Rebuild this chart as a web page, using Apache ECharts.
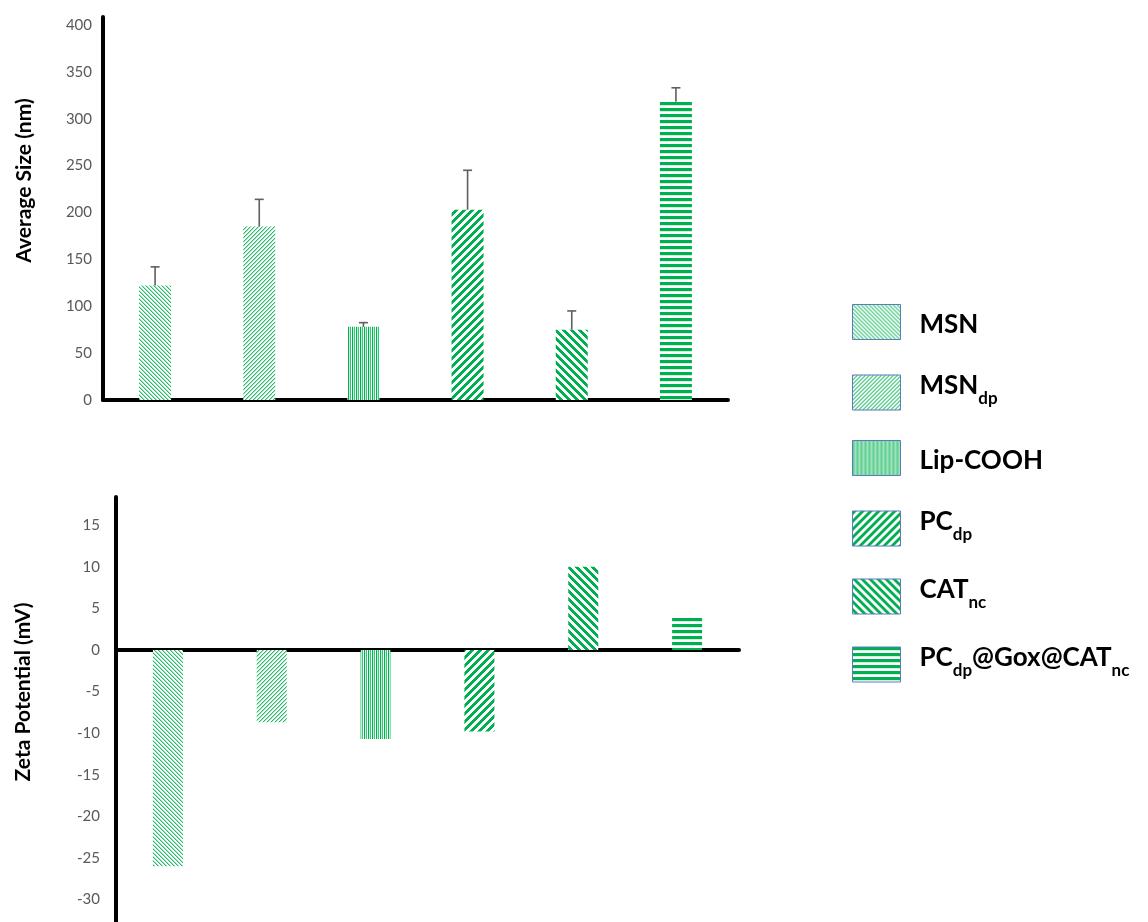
<!DOCTYPE html>
<html>
<head>
<meta charset="utf-8">
<script src="https://cdn.jsdelivr.net/npm/echarts@6/dist/echarts.min.js"></script>
<style>
  html, body { margin: 0; padding: 0; background: #ffffff; }
  #chart { width: 1148px; height: 922px; }
</style>
</head>
<body>
<div id="chart"></div>
<script>
// Samples (an underscore marks the subscript part of a name)
const categories = ['MSN', 'MSN_dp', 'Lip-COOH', 'PC_dp', 'CAT_nc', 'PC_dp@Gox@CAT_nc'];

// Average hydrodynamic size (nm) with upper error
const sizeValues = [122, 185, 78, 203, 75, 318];
const sizeErrors = [20, 29, 4.5, 42, 20, 15];

// Zeta potential (mV)
const zetaValues = [-26, -8.7, -10.7, -9.8, 10, 4];

// Axis ranges and tick steps
const sizeRange = [0, 408.5];
const sizeStep = 50;
const zetaRange = [-35, 18.4];
const zetaStep = 5;

const GREEN = '#00B050';
const FONT = 'Lato';

// Small repeating tiles used as fill patterns
function makeTile(w, h, paint) {
  const c = document.createElement('canvas');
  c.width = w; c.height = h;
  const ctx = c.getContext('2d');
  ctx.fillStyle = '#ffffff';
  ctx.fillRect(0, 0, w, h);
  for (let y = 0; y < h; y++) {
    for (let x = 0; x < w; x++) {
      const col = paint(x, y);
      if (col) { ctx.fillStyle = col; ctx.fillRect(x, y, 1, 1); }
    }
  }
  return { image: c, repeat: 'repeat' };
}
const mod = (a, n) => ((a % n) + n) % n;

const patterns = [
  // light downward diagonal
  makeTile(4, 4, (x, y) => { const k = mod(x - y, 4); return k === 0 ? '#22bb66' : (k === 1 ? '#a9e5c3' : null); }),
  // light upward diagonal
  makeTile(4, 4, (x, y) => { const k = mod(x + y, 4); return k === 0 ? '#22bb66' : (k === 1 ? '#a9e5c3' : null); }),
  // narrow vertical
  makeTile(4, 1, (x) => [GREEN, '#c4eed6', '#3cc47a', null][x]),
  // wide upward diagonal
  makeTile(8, 8, (x, y) => mod(x + y, 8) < 4 ? GREEN : null),
  // wide downward diagonal
  makeTile(8, 8, (x, y) => mod(x - y, 8) < 4 ? GREEN : null),
  // horizontal lines
  makeTile(1, 6, (x, y) => y < 3 ? GREEN : (y === 3 ? '#c9f0d9' : null))
];

// Legend label with subscripts as rich text
function richName(name) {
  const parts = name.split(/(_[a-z]+)/).filter(Boolean);
  const hasSub = parts.some(p => p[0] === '_');
  return parts.map(p => p[0] === '_' ? '{s|' + p.slice(1) + '}' : (hasSub ? '{M|' : '{m|') + p + '}').join('');
}

function oneSlot(values, idx) {
  return values.map((v, j) => (j === idx ? v : '-'));
}

const series = [];
categories.forEach((name, i) => {
  series.push({
    name: name, type: 'bar', xAxisIndex: 0, yAxisIndex: 0,
    data: oneSlot(sizeValues, i), barWidth: 32, barGap: '-100%',
    itemStyle: { color: patterns[i] }
  });
  series.push({
    name: name, type: 'bar', xAxisIndex: 1, yAxisIndex: 1,
    data: oneSlot(zetaValues, i), barWidth: 30, barGap: '-100%',
    itemStyle: { color: patterns[i] }
  });
});

// Upper error bars for the size panel
series.push({
  name: 'size error', type: 'custom', xAxisIndex: 0, yAxisIndex: 0, z: 5,
  data: sizeValues.map((v, i) => [i, v, v + sizeErrors[i]]),
  encode: { x: 0, y: [1, 2] },
  renderItem: function (params, api) {
    const base = api.coord([api.value(0), api.value(1)]);
    const top = api.coord([api.value(0), api.value(2)]);
    const half = 4.5;
    const st = { stroke: '#5f5f5f', lineWidth: 1.6 };
    return {
      type: 'group',
      children: [
        { type: 'line', shape: { x1: base[0], y1: base[1], x2: top[0], y2: top[1] }, style: st },
        { type: 'line', shape: { x1: top[0] - half, y1: top[1], x2: top[0] + half, y2: top[1] }, style: st }
      ]
    };
  }
});

function valueAxis(gridIndex, range, step, title, gap, shift, margin) {
  return {
    type: 'value', gridIndex: gridIndex,
    min: range[0], max: range[1], interval: step,
    name: title, nameLocation: 'middle', nameRotate: 90, nameGap: gap,
    nameTextStyle: { fontFamily: FONT, fontSize: 21, fontWeight: 'bold', color: '#000', padding: [0, 0, 0, shift] },
    axisLine: { show: true, lineStyle: { color: '#000', width: 4 } },
    axisTick: { show: false },
    splitLine: { show: false },
    axisLabel: {
      margin: margin, fontFamily: FONT, fontSize: 15, color: '#595959',
      formatter: v => (mod(Math.round(v * 1000), step * 1000) === 0 ? String(v) : '')
    }
  };
}

function catAxis(gridIndex) {
  return {
    type: 'category', gridIndex: gridIndex, data: categories,
    axisLine: { show: true, onZero: true, lineStyle: { color: '#000', width: 4 } },
    axisTick: { show: false },
    axisLabel: { show: false },
    splitLine: { show: false }
  };
}

// One legend block per sample, stacked down the right side
const legendRich = {
  m: { fontFamily: FONT, fontSize: 26, fontWeight: 'bold', color: '#000', lineHeight: 28, padding: [5, 0, 0, 0] },
  M: { fontFamily: FONT, fontSize: 26, fontWeight: 'bold', color: '#000', lineHeight: 28, padding: [0, 0, 14, 0] },
  s: { fontFamily: FONT, fontSize: 17, fontWeight: 'bold', color: '#000', lineHeight: 18, padding: [18, 0, 6, 0] }
};
const legends = categories.map((name, i) => ({
  orient: 'vertical', left: 852, top: 304 + i * 68, padding: 0,
  itemWidth: 48, itemHeight: 35, icon: 'rect',
  selectedMode: false,
  itemStyle: { borderColor: '#5b7bbf', borderWidth: 1 },
  data: [name],
  formatter: richName,
  textStyle: { padding: [0, 0, 0, 14], rich: legendRich }
}));

const chart = echarts.init(document.getElementById('chart'), null, { renderer: 'canvas' });
chart.setOption({
  backgroundColor: '#ffffff',
  animation: false,
  grid: [
    { left: 103, top: 17, width: 625, height: 383, outerBoundsMode: 'none' },
    { left: 116, top: 497, width: 623, height: 444, outerBoundsMode: 'none' }
  ],
  xAxis: [catAxis(0), catAxis(1)],
  yAxis: [
    valueAxis(0, sizeRange, sizeStep, 'Average Size (nm)', 68, 56, 11),
    valueAxis(1, zetaRange, zetaStep, 'Zeta Potential (mV)', 82, 54, 16)
  ],
  legend: legends,
  series: series
});
</script>
</body>
</html>
